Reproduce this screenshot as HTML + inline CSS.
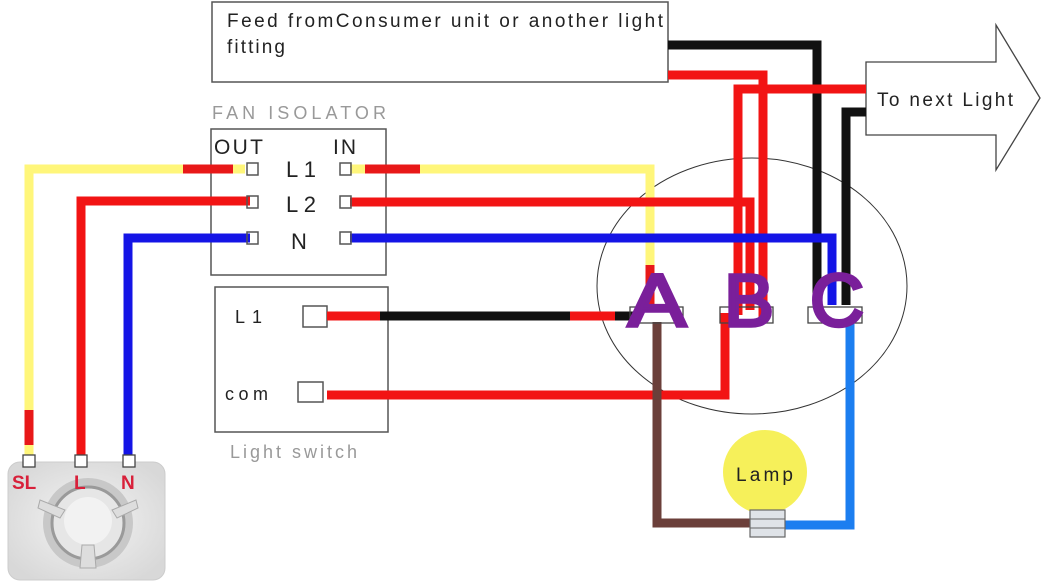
<!DOCTYPE html>
<html><head><meta charset="utf-8"><style>
html,body{margin:0;padding:0;background:#fff;}
svg{display:block;}
text{font-family:"Liberation Sans",sans-serif;}
</style></head><body>
<svg width="1043" height="587" viewBox="0 0 1043 587" xmlns="http://www.w3.org/2000/svg">
<defs>
<radialGradient id="fg" cx="50%" cy="50%" r="60%">
<stop offset="0" stop-color="#f4f4f4"/><stop offset="1" stop-color="#d8d8d8"/>
</radialGradient>
</defs>
<rect x="212" y="2" width="456" height="80" fill="#fff" stroke="#555" stroke-width="1.5"/>
<text x="227" y="27" font-size="19" fill="#222" textLength="436" lengthAdjust="spacing">Feed fromConsumer unit or another light</text>
<text x="227" y="53" font-size="19" fill="#222" textLength="58" lengthAdjust="spacing">fitting</text>
<polygon points="866,62 996,62 996,25 1040,98 996,170 996,135 866,135" fill="#fff" stroke="#444" stroke-width="1.3"/>
<text x="877" y="106" font-size="19" fill="#222" textLength="136" lengthAdjust="spacing">To next Light</text>
<ellipse cx="752" cy="286" rx="155" ry="128" fill="none" stroke="#333" stroke-width="1"/>
<text x="212" y="119" font-size="18" fill="#999" textLength="174" lengthAdjust="spacing">FAN ISOLATOR</text>
<rect x="211" y="129" width="175" height="146" fill="#fff" stroke="#555" stroke-width="1.5"/>
<text x="214" y="154" font-size="21" fill="#222" textLength="49" lengthAdjust="spacing">OUT</text>
<text x="333" y="154" font-size="21" fill="#222" textLength="23" lengthAdjust="spacing">IN</text>
<text x="286" y="177" font-size="22" fill="#222" textLength="30" lengthAdjust="spacing">L1</text>
<text x="286" y="212" font-size="22" fill="#222" textLength="30" lengthAdjust="spacing">L2</text>
<text x="291" y="249" font-size="22" fill="#222">N</text>
<rect x="215" y="287" width="173" height="145" fill="#fff" stroke="#555" stroke-width="1.5"/>
<text x="235" y="323" font-size="18" fill="#222" textLength="27" lengthAdjust="spacing">L1</text>
<text x="225" y="400" font-size="18" fill="#222" textLength="43" lengthAdjust="spacing">com</text>
<text x="230" y="458" font-size="18" fill="#999" textLength="127" lengthAdjust="spacing">Light switch</text>
<rect x="303" y="306" width="24" height="21" fill="#fff" stroke="#555" stroke-width="1.5"/>
<rect x="298" y="382" width="25" height="20" fill="#fff" stroke="#555" stroke-width="1.5"/>

<g fill="none" stroke-width="9" stroke-linejoin="miter">
<polyline points="29,455 29,169 245,169" stroke="#fff67a"/>
<line x1="183" y1="169" x2="233" y2="169" stroke="#e81818"/>
<line x1="29" y1="410" x2="29" y2="445" stroke="#e81818"/>
<polyline points="81,455 81,201 250,201" stroke="#f21414"/>
<polyline points="128,455 128,238 250,238" stroke="#1414e6"/>
<polyline points="350,169 650,169 650,300" stroke="#fff67a"/>
<line x1="365" y1="169" x2="420" y2="169" stroke="#e81818"/>
<line x1="650" y1="265" x2="650" y2="305" stroke="#e81818"/>
<polyline points="668,45 817,45 817,300" stroke="#111"/>
<polyline points="866,112 846,112 846,305" stroke="#111"/>
<polyline points="668,75 763,75 763,320" stroke="#f21414"/>
<polyline points="866,89 738,89 738,315" stroke="#f21414"/>
<polyline points="350,202 750,202 750,310" stroke="#f21414"/>
<polyline points="350,238 832,238 832,305" stroke="#1414e6"/>
<line x1="327" y1="316" x2="640" y2="316" stroke="#111"/>
<line x1="327" y1="316" x2="380" y2="316" stroke="#f21414"/>
<line x1="570" y1="316" x2="615" y2="316" stroke="#f21414"/>
<polyline points="327,395 725,395 725,313" stroke="#f21414"/>
<polyline points="657,322 657,523 752,523" stroke="#6b3f3a"/>
<polyline points="850,320 850,525 785,525" stroke="#1c7ef0"/>
</g>
<g fill="none" stroke="#555" stroke-width="1.5">
<rect x="247" y="163" width="11" height="12"/><rect x="340" y="163" width="11" height="12"/>
<rect x="247" y="196" width="11" height="12"/><rect x="340" y="196" width="11" height="12"/>
<rect x="247" y="232" width="11" height="12"/><rect x="340" y="232" width="11" height="12"/>
</g>
<g fill="none" stroke="#444" stroke-width="1.3">
<rect x="630" y="307" width="53" height="16"/>
<rect x="720" y="307" width="53" height="16"/>
<rect x="808" y="307" width="54" height="16"/>
</g>
<g font-size="74" fill="#7a1f9a" stroke="#7a1f9a" stroke-width="3.5">
<text x="628" y="326" textLength="58" lengthAdjust="spacingAndGlyphs">A</text>
<text x="724" y="326" textLength="50" lengthAdjust="spacingAndGlyphs">B</text>
<text x="810" y="326" textLength="54" lengthAdjust="spacingAndGlyphs">C</text>
</g>
<circle cx="765" cy="472" r="42" fill="#f6f05a"/>
<text x="736" y="481" font-size="19" fill="#222" textLength="57" lengthAdjust="spacing">Lamp</text>
<rect x="750" y="510" width="35" height="27" fill="#dfe3e8" stroke="#666" stroke-width="1.2"/>
<line x1="750" y1="519" x2="785" y2="519" stroke="#666"/>
<line x1="750" y1="528" x2="785" y2="528" stroke="#666"/>
<rect x="8" y="462" width="157" height="118" rx="12" fill="url(#fg)" stroke="#ccc"/>
<circle cx="88" cy="523" r="45" fill="#c8c8c8"/>
<circle cx="88" cy="523" r="36" fill="#e6e6e6" stroke="#9a9a9a" stroke-width="3"/>
<circle cx="88" cy="521" r="24" fill="#f2f2f2"/>
<polygon points="40,500 65,510 60,518 38,508" fill="#ddd" stroke="#aaa"/>
<polygon points="136,500 112,510 117,518 138,508" fill="#ddd" stroke="#aaa"/>
<polygon points="82,545 94,545 96,568 80,568" fill="#ddd" stroke="#aaa"/>
<rect x="23" y="455" width="12" height="12" fill="#fff" stroke="#444" stroke-width="1.3"/>
<rect x="75" y="455" width="12" height="12" fill="#fff" stroke="#444" stroke-width="1.3"/>
<rect x="123" y="455" width="12" height="12" fill="#fff" stroke="#444" stroke-width="1.3"/>
<g font-size="19" font-weight="bold" fill="#d8203a">
<text x="12" y="489">SL</text><text x="74" y="489">L</text><text x="121" y="489">N</text>
</g>
</svg>
</body></html>
